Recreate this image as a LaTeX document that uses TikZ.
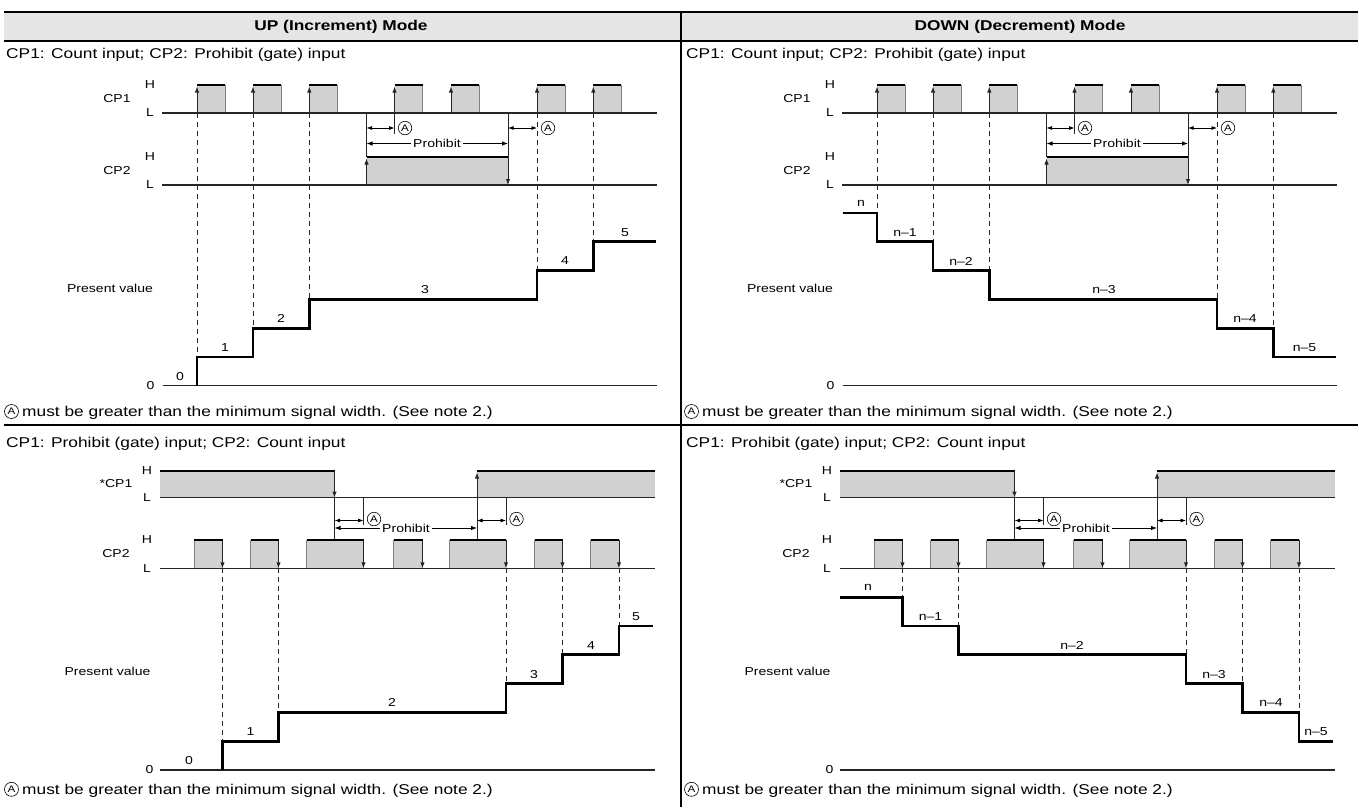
\documentclass[tikz,border=0pt]{standalone}
\usepackage{fontspec}
\setmainfont{Liberation Sans}[FakeStretch=1.22]
\usetikzlibrary{arrows.meta}
\definecolor{hdr}{gray}{0.90}
\definecolor{pul}{gray}{0.82}
\tikzset{
  lline/.style={line width=1.2pt, black!85},
  hiline/.style={line width=2.9pt, black},
  gedge/.style={line width=0.9pt, black!50},
  dedge/.style={line width=0.9pt, black!85},
  thinl/.style={line width=0.75pt, black},
  tipu/.style={-{Latex[length=6pt,width=4.4pt]}},
  dim/.style={{Latex[length=5.5pt,width=4pt]}-{Latex[length=5.5pt,width=4pt]}, line width=0.75pt},
  dsh/.style={line width=0.75pt, dash pattern=on 5pt off 4pt, black!85},
  stepl/.style={line width=2.8pt, black, line join=miter},
  lbl/.style={font=\fontsize{11.5}{13}\selectfont, inner sep=0pt},
  txt/.style={font=\fontsize{14.2}{17}\selectfont, inner sep=0pt},
  hdrtxt/.style={font=\fontsize{14.2}{17}\selectfont\bfseries, inner sep=0pt},
  circA/.style={circle, draw, line width=0.6pt, minimum size=13.5pt, inner sep=0pt, font=\fontsize{9.5}{10}\selectfont},
}
% pulse with rising-edge arrow
\newcommand\pulR[4]{%
  \fill[pul] (#1,#3) rectangle (#2,#4);
  \draw[gedge] (#2,#3) -- (#2,#4);
  \draw[dedge,tipu] (#1,#4) -- (#1,#3+1.5);
  \draw[hiline] (#1,#3) -- (#2,#3);}
% pulse with falling-edge arrow
\newcommand\pulF[4]{%
  \fill[pul] (#1,#3) rectangle (#2,#4);
  \draw[gedge] (#1,#3) -- (#1,#4);
  \draw[dedge,tipu] (#2,#3) -- (#2,#4);
  \draw[hiline] (#1,#3) -- (#2,#3);}
% panel A signals (CP1 count, CP2 prohibit)
\newcommand\sigA[1]{%
  \foreach \a in {197,253,309.3,394.5,451,537,593.3}{\pulR{\a}{\a+28}{85}{113}}
  \fill[pul] (366.5,157) rectangle (508,185);
  \draw[dedge] (366.5,113) -- (366.5,157);
  \draw[dedge,tipu] (366.5,185) -- (366.5,158.5);
  \draw[dedge,tipu] (508,113) -- (508,185);
  \draw[hiline] (366.5,157) -- (508,157);
  \draw[dedge] (394.5,113) -- (394.5,134);
  \draw[lline] (162,113) -- (657,113);
  \draw[lline] (162,185) -- (657,185);
  \draw[dim] (366.5,128) -- (394.5,128);
  \node[circA] (aA1#1) at (405,128) {A};
  \draw[dim] (508,128) -- (537,128);
  \node[circA] (aA2#1) at (548,128) {A};
  \node[lbl] (prA#1) at (437,143.5) {Prohibit};
  \draw[tipu,thinl] ([xshift=-2pt]prA#1.west) -- (366.5,143.5);
  \draw[tipu,thinl] ([xshift=2pt]prA#1.east) -- (508,143.5);
  \node[lbl] (cp1A#1) at (117,99) {CP1};
  \node[lbl] (h1A#1) at (150,85) {H};
  \node[lbl] (l1A#1) at (150,113) {L};
  \node[lbl] (cp2A#1) at (117,171) {CP2};
  \node[lbl] (h2A#1) at (150,157) {H};
  \node[lbl] (l2A#1) at (150,185) {L};
  \draw[lline] (162.5,385.7) -- (657,385.7);
  \node[lbl] (zA#1) at (150.5,385.7) {0};
  \node[lbl] (pvA#1) at (110,288) {Present value};
  \node[txt, anchor=base west] (stA#1) at (6,58) {CP1: Count input; CP2: Prohibit (gate) input};
  \node[circA, minimum size=14pt] (fnaA#1) at (11.5,411.5) {A};
  \node[txt, anchor=base west] (fnA#1) at (22,416.5) {must be greater than the minimum signal width. (See note 2.)};
}
% panel B signals (CP1 prohibit, CP2 count)
\newcommand\sigB[1]{%
  \fill[pul] (160,471) rectangle (334.5,497.7);
  \fill[pul] (477,471) rectangle (655,497.7);
  \draw[hiline] (160,471) -- (334.5,471);
  \draw[hiline] (477,471) -- (655,471);
  \draw[dedge,tipu] (334.5,471) -- (334.5,497.7);
  \draw[dedge] (334.5,497.7) -- (334.5,540);
  \draw[dedge,tipu] (477,540) -- (477,472.5);
  \draw[lline] (160,497.7) -- (655,497.7);
  \draw[dedge] (363.5,497.7) -- (363.5,525);
  \draw[dedge] (506,497.7) -- (506,525);
  \draw[dim] (334.5,520.5) -- (363.5,520.5);
  \node[circA] (aB1#1) at (374,519) {A};
  \draw[dim] (477,520.5) -- (506,520.5);
  \node[circA] (aB2#1) at (516.5,519) {A};
  \node[lbl] (prB#1) at (406,528) {Prohibit};
  \draw[tipu,thinl] ([xshift=-2pt]prB#1.west) -- (334.5,528);
  \draw[tipu,thinl] ([xshift=2pt]prB#1.east) -- (477,528);
  \foreach \a/\b in {194/222.5,250.5/278.5,306.5/363.5,393.5/422.5,449.5/506,534.5/562.5,590.5/619}{\pulF{\a}{\b}{540}{568.3}}
  \draw[lline] (160,568.3) -- (655,568.3);
  \node[lbl] (cp1B#1) at (116,484) {*CP1};
  \node[lbl] (h1B#1) at (147,471) {H};
  \node[lbl] (l1B#1) at (147,497.7) {L};
  \node[lbl] (cp2B#1) at (116,554) {CP2};
  \node[lbl] (h2B#1) at (147,540) {H};
  \node[lbl] (l2B#1) at (147,568.3) {L};
  \draw[lline] (160,770) -- (655,770);
  \node[lbl] (zB#1) at (149.5,770) {0};
  \node[lbl] (pvB#1) at (107.5,671.7) {Present value};
  \node[txt, anchor=base west] (stB#1) at (6,447) {CP1: Prohibit (gate) input; CP2: Count input};
  \node[circA, minimum size=14pt] (fnaB#1) at (11.5,789.3) {A};
  \node[txt, anchor=base west] (fnB#1) at (22,794.3) {must be greater than the minimum signal width. (See note 2.)};
}
\begin{document}
\begin{tikzpicture}[x=1pt,y=-1pt]
\useasboundingbox (0,0) rectangle (1359,807);
\fill[white] (0,0) rectangle (1359,807);
% header
\fill[hdr] (4,12) rectangle (1358,41);
\draw[line width=2.5pt] (4,12) -- (1358,12);
\draw[line width=2pt] (4,41) -- (1358,41);
\draw[line width=1.1pt] (681,12) -- (681,807);
\draw[line width=1.1pt] (4,425) -- (1358,425);
\node[hdrtxt] (hup) at (341,26.5) {UP (Increment) Mode};
\node[hdrtxt] (hdn) at (1020,26.5) {DOWN (Decrement) Mode};

% ---------- left column ----------
\sigA{L}
\foreach \x/\y in {197/356.9,253/328.1,309.3/299.3,537/270.5,593.3/241.7}{\draw[dsh] (\x,113) -- (\x,\y);}
\draw[stepl] (197,385.7) -- (197,356.9) -| (253,328.1) -| (309.3,299.3) -| (537,270.5) -| (593.3,241.7) -- (655.7,241.7);
\foreach \x/\y/\t [count=\i] in {180/376.2/0,225/347.4/1,281/318.6/2,425/289.8/3,565/261/4,625/232.2/5}{\node[lbl] (vAL\i) at (\x,\y) {\t};}

\sigB{L}
\foreach \x/\y in {222.5/741.2,278.5/712.4,506/683.6,562.5/654.8,619/626}{\draw[dsh] (\x,568.3) -- (\x,\y);}
\draw[stepl] (222.5,770) -- (222.5,741.2) -| (278.5,712.4) -| (506,683.6) -| (562.5,654.8) -| (619,626) -- (653,626);
\foreach \x/\y/\t [count=\i] in {189/760.5/0,250.5/731.7/1,392/702.9/2,534/674.1/3,591/645.3/4,636/616.5/5}{\node[lbl] (vBL\i) at (\x,\y) {\t};}

% ---------- right column ----------
\begin{scope}[xshift=680pt]
\sigA{R}
\foreach \x/\y in {197/212.9,253/241.7,309.3/270.5,537/299.3,593.3/328.1}{\draw[dsh] (\x,113) -- (\x,\y);}
\draw[stepl] (162.5,212.9) -| (197,241.7) -| (253,270.5) -| (309.3,299.3) -| (537,328.1) -| (593.3,356.9) -- (655.7,356.9);
\foreach \x/\y/\t [count=\i] in {181/203.4/n,225/232.2/n–1,281/261/n–2,424/289.8/n–3,565/318.6/n–4,624.5/347.4/n–5}{\node[lbl] (vAR\i) at (\x,\y) {\t};}

\sigB{R}
\foreach \x/\y in {222.5/597.2,278.5/626,506/654.8,562.5/683.6,619/712.4}{\draw[dsh] (\x,568.3) -- (\x,\y);}
\draw[stepl] (160,597.2) -| (222.5,626) -| (278.5,654.8) -| (506,683.6) -| (562.5,712.4) -| (619,741.2) -- (653,741.2);
\foreach \x/\y/\t [count=\i] in {188/587.7/n,250.5/616.5/n–1,392/645.3/n–2,534/674.1/n–3,591/702.9/n–4,636/731.7/n–5}{\node[lbl] (vBR\i) at (\x,\y) {\t};}
\end{scope}
\end{tikzpicture}
\end{document}
